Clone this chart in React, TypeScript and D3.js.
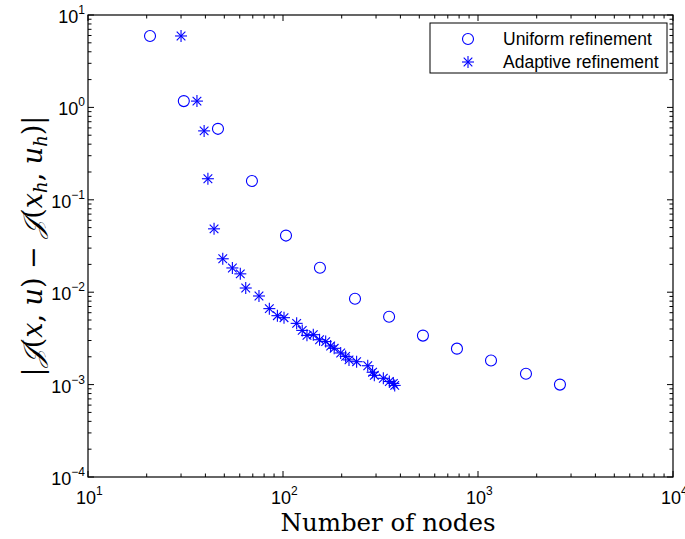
import React from "react";
import * as d3 from "d3";

const uniformNodes = [20.8, 31, 46.4, 69.3, 103.6, 154.7, 234, 350, 522, 780, 1166, 1762, 2632];
const uniformError = [5.93, 1.17, 0.586, 0.16, 0.041, 0.0184, 0.0085, 0.00543, 0.00339, 0.00245, 0.00182, 0.00131, 0.001];

const adaptiveNodes = [30, 36.2, 39.4, 41.2, 44.3, 49.1, 55, 60.4, 64.4, 75.3, 85.1, 93.6, 101.2, 117.5, 125.5, 132.7, 143, 154, 165.5, 175.5, 183, 197.6, 209.5, 218, 238.5, 272, 288, 294, 327, 351, 368, 374];
const adaptiveError = [5.93, 1.17, 0.557, 0.169, 0.0485, 0.023, 0.0183, 0.0158, 0.0111, 0.0091, 0.00664, 0.00557, 0.0053, 0.0046, 0.00386, 0.00341, 0.00347, 0.00306, 0.00292, 0.00262, 0.00247, 0.0022, 0.00202, 0.00185, 0.00177, 0.0016, 0.00136, 0.00126, 0.00117, 0.00108, 0.00103, 0.00098];

const xDecades = [1, 2, 3, 4];
const yDecades = [-4, -3, -2, -1, 0, 1];
const legendLabels = ["Uniform refinement", "Adaptive refinement"];

const W = 685, H = 539;
const L = 88, R = 673, T = 15, B = 477;
const BLUE = "#0000ff";

function Star({ x, y, s = 6 }: { x: number; y: number; s?: number }) {
  const d = s * 0.72;
  return (
    <g stroke={BLUE} strokeWidth={1.1}>
      <line x1={x - s} y1={y} x2={x + s} y2={y} />
      <line x1={x} y1={y - s} x2={x} y2={y + s} />
      <line x1={x - d} y1={y - d} x2={x + d} y2={y + d} />
      <line x1={x - d} y1={y + d} x2={x + d} y2={y - d} />
    </g>
  );
}

export default function App() {
  const xs = d3.scaleLog().domain([10, 10000]).range([L, R]);
  const ys = d3.scaleLog().domain([1e-4, 10]).range([B, T]);

  const xMinor: number[] = [];
  for (let e = 1; e < 4; e++) for (let m = 2; m <= 9; m++) xMinor.push(m * Math.pow(10, e));
  const yMinor: number[] = [];
  for (let e = -4; e < 1; e++) for (let m = 2; m <= 9; m++) yMinor.push(m * Math.pow(10, e));

  const maj = 6, mnr = 3.5;
  const tickFont = "Liberation Sans, Arial, sans-serif";

  return (
    <svg width={W} height={H} style={{ display: "block", position: "absolute", left: 0, top: 0 }}>
      <rect x={0} y={0} width={W} height={H} fill="white" />
      <g stroke="black" strokeWidth={1}>
        {xDecades.map((e) => {
          const x = xs(Math.pow(10, e));
          return (
            <g key={"xm" + e}>
              <line x1={x} y1={B} x2={x} y2={B - maj} />
              <line x1={x} y1={T} x2={x} y2={T + maj} />
            </g>
          );
        })}
        {xMinor.map((v, i) => {
          const x = xs(v);
          return (
            <g key={"xn" + i}>
              <line x1={x} y1={B} x2={x} y2={B - mnr} />
              <line x1={x} y1={T} x2={x} y2={T + mnr} />
            </g>
          );
        })}
        {yDecades.map((e) => {
          const y = ys(Math.pow(10, e));
          return (
            <g key={"ym" + e}>
              <line x1={L} y1={y} x2={L + maj} y2={y} />
              <line x1={R} y1={y} x2={R - maj} y2={y} />
            </g>
          );
        })}
        {yMinor.map((v, i) => {
          const y = ys(v);
          return (
            <g key={"yn" + i}>
              <line x1={L} y1={y} x2={L + mnr} y2={y} />
              <line x1={R} y1={y} x2={R - mnr} y2={y} />
            </g>
          );
        })}
      </g>
      <rect x={L} y={T} width={R - L} height={B - T} fill="none" stroke="black" strokeWidth={1.2} />

      <g fontFamily={tickFont} fill="black">
        {xDecades.map((e) => (
          <text key={"xl" + e} x={xs(Math.pow(10, e)) - 12} y={504} fontSize={18}>
            10<tspan dy={-9} fontSize={12}>{e}</tspan>
          </text>
        ))}
        {yDecades.map((e) => (
          <text key={"yl" + e} x={85} y={ys(Math.pow(10, e)) + 8} fontSize={18} textAnchor="end">
            10<tspan dy={-9} fontSize={12}>{e < 0 ? "\u2212" + -e : e}</tspan>
          </text>
        ))}
      </g>

      <g>
        {uniformNodes.map((n, i) => (
          <circle key={"u" + i} cx={xs(n)} cy={ys(uniformError[i])} r={5.5} fill="none" stroke={BLUE} strokeWidth={1.1} />
        ))}
        {adaptiveNodes.map((n, i) => (
          <Star key={"a" + i} x={xs(n)} y={ys(adaptiveError[i])} />
        ))}
      </g>

      <rect x={430} y={23} width={237} height={50} fill="white" stroke="black" strokeWidth={1} />
      <circle cx={468} cy={39} r={5.5} fill="none" stroke={BLUE} strokeWidth={1.1} />
      <Star x={468} y={62} />
      <g fontFamily={tickFont} fontSize={17.5} fill="black">
        <text x={503} y={45}>{legendLabels[0]}</text>
        <text x={503} y={68}>{legendLabels[1]}</text>
      </g>

      <text x={388} y={531} textAnchor="middle" fontFamily="DejaVu Serif, serif" fontSize={24.5} fill="black">
        Number of nodes
      </text>
      <text
        transform={`translate(42,${(T + B) / 2}) rotate(-90)`}
        textAnchor="middle"
        fontFamily="DejaVu Serif, serif"
        fontSize={27}
        fill="black"
      >
        |<tspan fontStyle="italic">𝒥</tspan>(<tspan fontStyle="italic">x</tspan>, <tspan fontStyle="italic">u</tspan>) − <tspan fontStyle="italic">𝒥</tspan>(<tspan fontStyle="italic">x</tspan><tspan fontSize={18} dy={5} fontStyle="italic">h</tspan><tspan dy={-5}>, </tspan><tspan fontStyle="italic">u</tspan><tspan fontSize={18} dy={5} fontStyle="italic">h</tspan><tspan dy={-5}>)|</tspan>
      </text>
    </svg>
  );
}
